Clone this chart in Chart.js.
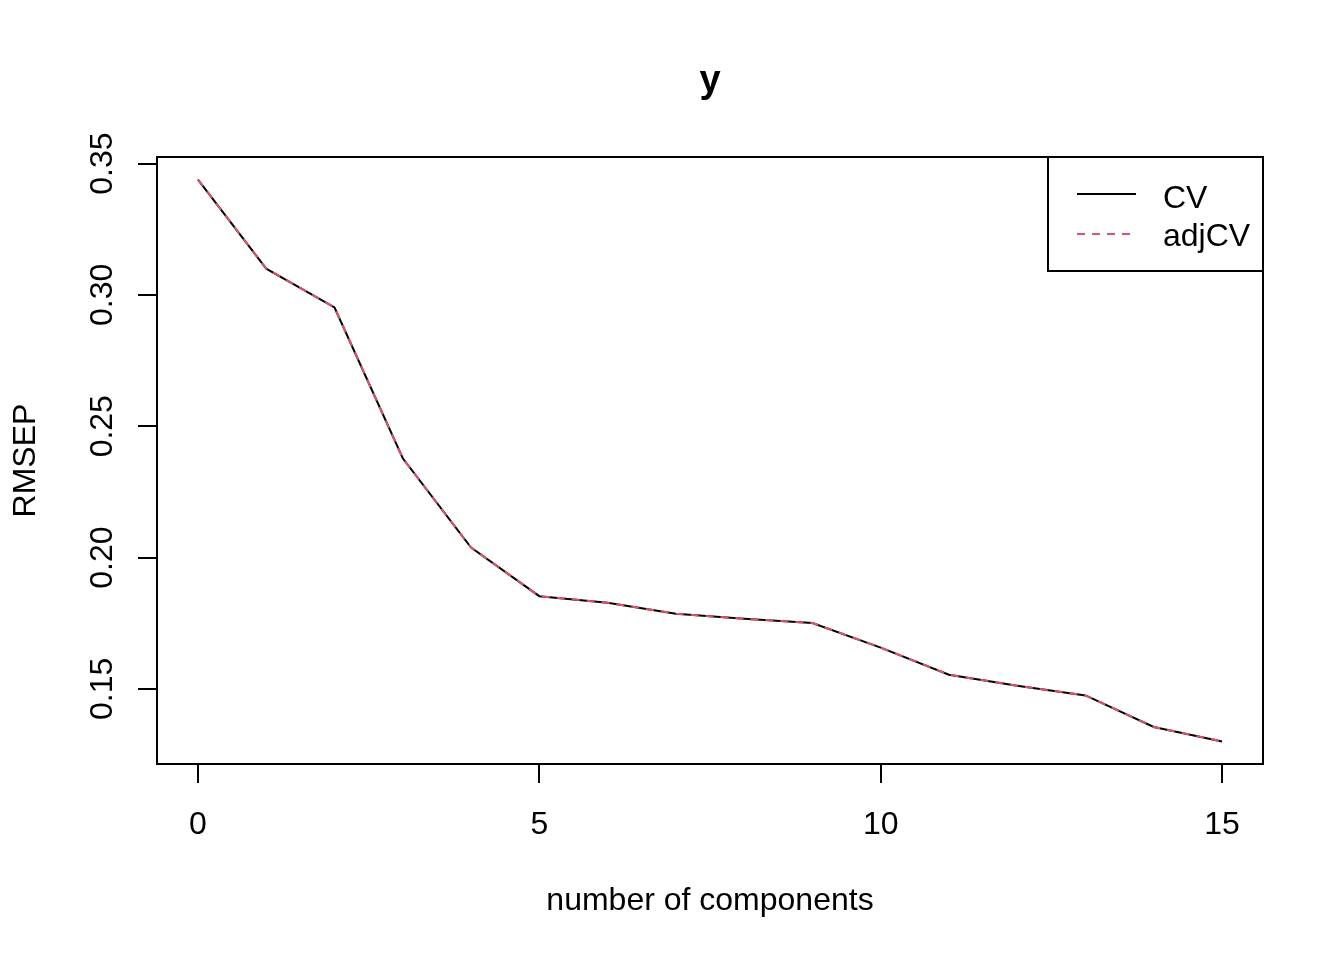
<!DOCTYPE html>
<html>
<head>
<meta charset="utf-8">
<script src="https://cdn.jsdelivr.net/npm/chart.js@4/dist/chart.umd.min.js"></script>
<style>
  html, body { margin: 0; padding: 0; background: #fff; }
  #wrap { width: 1344px; height: 960px; position: relative; }
</style>
</head>
<body>
<div id="wrap"><canvas id="rmsepChart"></canvas></div>
<script>
// values
const components = [0, 1, 2, 3, 4, 5, 6, 7, 8, 9, 10, 11, 12, 13, 14, 15];
const cvValues = [0.3439, 0.3100, 0.2952, 0.2378, 0.2038, 0.1853, 0.1828, 0.1786,
                  0.1767, 0.1751, 0.1657, 0.1554, 0.1512, 0.1475, 0.1355, 0.1300];
const adjcvValues = [0.3439, 0.3100, 0.2952, 0.2378, 0.2038, 0.1853, 0.1828, 0.1786,
                     0.1767, 0.1751, 0.1657, 0.1554, 0.1512, 0.1475, 0.1355, 0.1300];
const xTicks = [0, 5, 10, 15];
const yTicks = [0.15, 0.20, 0.25, 0.30, 0.35];
const seriesNames = ['CV', 'adjCV'];

const FONT = '"Liberation Sans", Arial, sans-serif';
const RED = '#DF536B';

// frame, title, axis titles, y tick labels and legend, R style
const rDecor = {
  id: 'rDecor',
  afterDraw(chart) {
    const { ctx, chartArea: a } = chart;
    const yScale = chart.scales.y;
    ctx.save();
    ctx.strokeStyle = '#000';
    ctx.lineWidth = 2;
    ctx.strokeRect(a.left, a.top, a.right - a.left, a.bottom - a.top);

    ctx.fillStyle = '#000';
    ctx.textAlign = 'center';
    ctx.textBaseline = 'alphabetic';
    ctx.font = 'bold 38px ' + FONT;
    ctx.fillText('y', (a.left + a.right) / 2, 92);

    ctx.font = '32px ' + FONT;
    ctx.fillText('number of components', (a.left + a.right) / 2, 910);

    // rotated y labels
    yScale.ticks.forEach(t => {
      const py = yScale.getPixelForValue(t.value);
      ctx.save();
      ctx.translate(112, py);
      ctx.rotate(-Math.PI / 2);
      ctx.fillText(t.value.toFixed(2), 0, 0);
      ctx.restore();
    });
    ctx.save();
    ctx.translate(35, (a.top + a.bottom) / 2);
    ctx.rotate(-Math.PI / 2);
    ctx.fillText('RMSEP', 0, 0);
    ctx.restore();

    // legend
    ctx.strokeRect(1048, a.top, a.right - 1048, 271 - a.top);
    const rows = [
      { y: 194, base: 208, color: '#000', dash: [] },
      { y: 234, base: 246, color: RED, dash: [8, 7] }
    ];
    rows.forEach((r, i) => {
      ctx.strokeStyle = r.color;
      ctx.setLineDash(r.dash);
      ctx.beginPath();
      ctx.moveTo(1077, r.y);
      ctx.lineTo(1136, r.y);
      ctx.stroke();
      ctx.setLineDash([]);
      ctx.textAlign = 'left';
      ctx.fillText(seriesNames[i], 1163, r.base);
    });
    ctx.restore();
  }
};

const ctx = document.getElementById('rmsepChart').getContext('2d');

const chart = new Chart(ctx, {
  type: 'line',
  data: {
    datasets: [
      {
        label: seriesNames[0],
        data: components.map((c, i) => ({ x: c, y: cvValues[i] })),
        borderColor: '#000',
        borderWidth: 2,
        pointRadius: 0,
        tension: 0,
        order: 1
      },
      {
        label: seriesNames[1],
        data: components.map((c, i) => ({ x: c, y: adjcvValues[i] })),
        borderColor: RED,
        borderWidth: 2,
        borderDash: [8, 7],
        pointRadius: 0,
        tension: 0,
        order: 0
      }
    ]
  },
  options: {
    responsive: true,
    maintainAspectRatio: false,
    devicePixelRatio: 1,
    animation: false,
    layout: { padding: { left: 0, top: 157, right: 81, bottom: 0 } },
    scales: {
      x: {
        type: 'linear',
        min: -0.6,
        max: 15.6,
        afterBuildTicks: s => { s.ticks = xTicks.map(v => ({ value: v })); },
        afterFit: s => { s.height = 196; },
        border: { display: false },
        grid: { drawOnChartArea: false, drawTicks: true, tickLength: 19, color: '#000', lineWidth: 2 },
        ticks: {
          color: '#000',
          font: { family: FONT, size: 32 },
          padding: 23,
          maxRotation: 0,
          callback: v => String(v)
        }
      },
      y: {
        type: 'linear',
        min: 0.1214,
        max: 0.3525,
        afterBuildTicks: s => { s.ticks = yTicks.map(v => ({ value: v })); },
        afterFit: s => { s.width = 157; },
        border: { display: false },
        grid: { drawOnChartArea: false, drawTicks: true, tickLength: 19, color: '#000', lineWidth: 2 },
        ticks: { display: false }
      }
    },
    plugins: {
      legend: { display: false },
      tooltip: { enabled: false },
      title: { display: false }
    }
  },
  plugins: [rDecor]
});
</script>
</body>
</html>
